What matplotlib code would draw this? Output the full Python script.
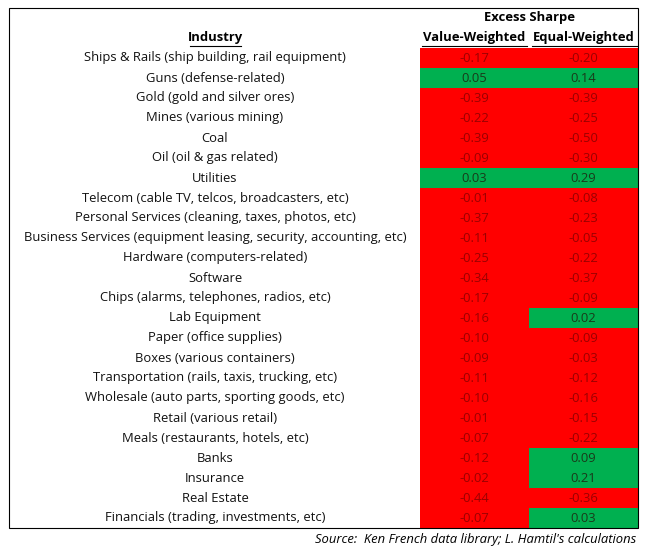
import matplotlib.pyplot as plt
from matplotlib.patches import Rectangle

industries = [
    "Ships & Rails (ship building, rail equipment)",
    "Guns (defense-related)",
    "Gold (gold and silver ores)",
    "Mines (various mining)",
    "Coal",
    "Oil (oil & gas related)",
    "Utilities",
    "Telecom (cable TV, telcos, broadcasters, etc)",
    "Personal Services (cleaning, taxes, photos, etc)",
    "Business Services (equipment leasing, security, accounting, etc)",
    "Hardware (computers-related)",
    "Software",
    "Chips (alarms, telephones, radios, etc)",
    "Lab Equipment",
    "Paper (office supplies)",
    "Boxes (various containers)",
    "Transportation (rails, taxis, trucking, etc)",
    "Wholesale (auto parts, sporting goods, etc)",
    "Retail (various retail)",
    "Meals (restaurants, hotels, etc)",
    "Banks",
    "Insurance",
    "Real Estate",
    "Financials (trading, investments, etc)",
]
value_weighted = [-0.17, 0.05, -0.39, -0.22, -0.39, -0.09, 0.03, -0.01, -0.37, -0.11, -0.25, -0.34,
                  -0.17, -0.16, -0.10, -0.09, -0.11, -0.10, -0.01, -0.07, -0.12, -0.02, -0.44, -0.07]
equal_weighted = [-0.20, 0.14, -0.39, -0.25, -0.50, -0.30, 0.29, -0.08, -0.23, -0.05, -0.22, -0.37,
                  -0.09, 0.02, -0.09, -0.03, -0.12, -0.16, -0.15, -0.22, 0.09, 0.21, -0.36, 0.03]

RED, GREEN = '#ff0000', '#00b050'
fig = plt.figure(figsize=(6.49, 5.53), dpi=100)
ax = fig.add_axes([0, 0, 1, 1])
ax.set_xlim(0, 649)
ax.set_ylim(553, 0)
ax.axis('off')
font = dict(family=['Open Sans', 'DejaVu Sans'], fontsize=9.4)

top, rh = 48, 20.0
cols = [(420, 529), (529, 638)]
for i, name in enumerate(industries):
    y = top + i * rh
    ax.text(215, y + rh / 2, name, ha='center', va='center', color='#111111', **font)
    for (x0, x1), v in zip(cols, [value_weighted[i], equal_weighted[i]]):
        ax.add_patch(Rectangle((x0, y), x1 - x0, rh, facecolor=GREEN if v > 0 else RED, edgecolor='none'))
        ax.text((x0 + x1) / 2, y + rh / 2, '%.2f' % v,
                ha='center', va='center', color='#1a3a1a' if v > 0 else '#9a0000', **font)

bottom = top + len(industries) * rh
ax.add_patch(Rectangle((9, 8), 629, bottom - 8, facecolor='none', edgecolor='black', lw=0.8))

ax.text(529, 18, 'Excess Sharpe', ha='center', va='center', fontweight='bold', **font)
ax.text(215, 38, 'Industry', ha='center', va='center', fontweight='bold', **font)
ax.text(474, 38, 'Value-Weighted', ha='center', va='center', fontweight='bold', **font)
ax.text(584, 38, 'Equal-Weighted', ha='center', va='center', fontweight='bold', **font)
for x0, x1 in [(190, 241), (422, 527), (532, 637)]:
    ax.plot([x0, x1], [46, 46], color='black', lw=0.8)

ax.text(636, 539, "Source:  Ken French data library; L. Hamtil's calculations",
        ha='right', va='center', style='italic', **font)

fig.savefig('out.png', dpi=100)
